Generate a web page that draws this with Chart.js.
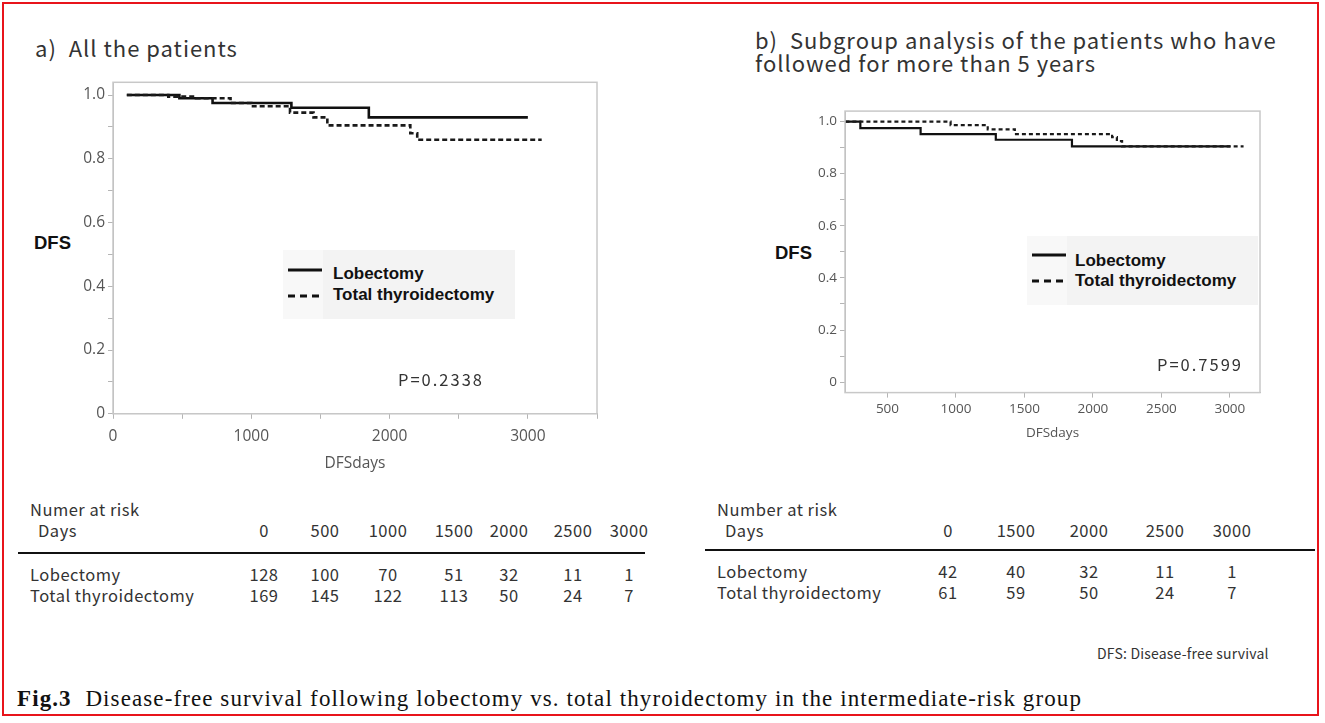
<!DOCTYPE html>
<html>
<head>
<meta charset="utf-8">
<script src="https://cdn.jsdelivr.net/npm/chart.js@4.4.1/dist/chart.umd.min.js"></script>
<style>
  body { margin: 0; background: #fff; width: 1325px; height: 723px; position: relative; overflow: hidden;
         font-family: "Noto Sans CJK JP", "Noto Sans", sans-serif; color: #222; }
  .frame { position: absolute; left: 2px; top: 2px; width: 1317px; height: 714px; border: 2px solid #e8141b; box-sizing: border-box; }
  .abs { position: absolute; white-space: pre; }
  .ttl { font-size: 22px; letter-spacing: 1px; color: #333; line-height: 23px; }
  .dfs { font-family: "Liberation Sans", Arial, sans-serif; font-weight: bold; font-size: 18.5px; color: #111; }
  .legend { position: absolute; background: #f3f3f3; }
  .legend .lt { position: absolute; background: #f8f8f8; left: 0; top: 0; bottom: 0; width: 40px; }
  .legend span { position: absolute; font-family: "Liberation Sans", Arial, sans-serif; font-weight: bold; font-size: 17px; color: #111; }
  .legend svg { position: absolute; }
  .pval { font-size: 16.5px; letter-spacing: 2px; color: #333; }
  canvas { position: absolute; }
  .tx { font-size: 16.5px; letter-spacing: 0.5px; color: #333; }
  .cap { font-family: "Liberation Serif", "Times New Roman", serif; font-size: 23px; letter-spacing: 1.1px; color: #111; }
</style>
</head>
<body>
<div class="frame"></div>

<div class="abs ttl" style="left:35px;top:36px;">a)  All the patients</div>
<div class="abs ttl" style="left:755px;top:28px;">b)  Subgroup analysis of the patients who have
followed for more than 5 years</div>

<div class="abs dfs" style="left:34px;top:232px;">DFS</div>
<div class="abs dfs" style="left:775px;top:242px;">DFS</div>

<canvas id="chartA"></canvas>
<canvas id="chartB"></canvas>

<div class="legend" style="left:283px;top:250px;width:232px;height:69px;">
  <div class="lt"></div>
  <svg width="40" height="69" style="left:0;top:0"><line x1="5" y1="20" x2="39" y2="20" stroke="#111" stroke-width="3"/><line x1="5" y1="46" x2="39" y2="46" stroke="#111" stroke-width="3" stroke-dasharray="7 5"/></svg>
  <span style="left:50px;top:14px;">Lobectomy</span>
  <span style="left:50px;top:35px;">Total thyroidectomy</span>
</div>
<div class="legend" style="left:1027px;top:236px;width:231px;height:69px;">
  <div class="lt"></div>
  <svg width="40" height="69" style="left:0;top:0"><line x1="5" y1="19" x2="39" y2="19" stroke="#111" stroke-width="3"/><line x1="5" y1="45" x2="39" y2="45" stroke="#111" stroke-width="3" stroke-dasharray="7 5"/></svg>
  <span style="left:48px;top:15px;">Lobectomy</span>
  <span style="left:48px;top:35px;">Total thyroidectomy</span>
</div>

<div class="abs pval" style="left:398px;top:367px;">P=0.2338</div>
<div class="abs pval" style="left:1157px;top:352px;">P=0.7599</div>

<div id="tabA"></div>
<div id="tabB"></div>

<div class="abs" style="left:1097px;top:643px;font-size:14px;letter-spacing:0.2px;color:#333;">DFS: Disease-free survival</div>
<div class="abs cap" style="left:17px;top:686px;"><b>Fig.3</b>  Disease-free survival following lobectomy vs. total thyroidectomy in the intermediate-risk group</div>

<script>
// ---- a) all patients (Kaplan-Meier steps, read off the figure) ----
var lobA_days  = [100, 480, 720, 1290, 1850, 3000];
var lobA_surv  = [1.0, 0.99, 0.975, 0.96, 0.93, 0.93];
var totA_days  = [100, 400, 600, 850, 1000, 1280, 1450, 1550, 2150, 2200, 3100];
var totA_surv  = [1.0, 0.995, 0.99, 0.975, 0.965, 0.945, 0.93, 0.905, 0.88, 0.86, 0.86];

// ---- b) followed > 5 years ----
var lobB_days  = [193, 302, 742, 1291, 1847, 3004];
var lobB_surv  = [1.0, 0.975, 0.952, 0.93, 0.905, 0.905];
var totB_days  = [193, 961, 1232, 1430, 2140, 2175, 2213, 3100];
var totB_surv  = [1.0, 0.986, 0.97, 0.952, 0.94, 0.925, 0.905, 0.905];

// axis ticks
var yTicks  = [0, 0.1, 0.2, 0.3, 0.4, 0.5, 0.6, 0.7, 0.8, 0.9, 1.0];
var xTicksA = [0, 500, 1000, 1500, 2000, 2500, 3000, 3500];
var xTicksB = [500, 1000, 1500, 2000, 2500, 3000];

// number at risk tables
var riskDaysA = [0, 500, 1000, 1500, 2000, 2500, 3000];
var riskLobA  = [128, 100, 70, 51, 32, 11, 1];
var riskTotA  = [169, 145, 122, 113, 50, 24, 7];
var riskDaysB = [0, 1500, 2000, 2500, 3000];
var riskLobB  = [42, 40, 32, 11, 1];
var riskTotB  = [61, 59, 50, 24, 7];

function pts(xs, ys) {
  return xs.map(function (x, i) { return { x: x, y: ys[i] }; });
}

// light grey frame round the plot area
var boxPlugin = {
  id: 'box',
  afterDraw: function (chart) {
    var a = chart.chartArea, c = chart.ctx;
    c.save();
    c.strokeStyle = '#c8c8c8';
    c.lineWidth = 1.5;
    c.strokeRect(a.left, a.top, a.right - a.left, a.bottom - a.top);
    c.restore();
  }
};

function kmChart(id, opt) {
  var cv = document.getElementById(id);
  cv.style.left = opt.left + 'px';
  cv.style.top = opt.top + 'px';
  cv.width = opt.w; cv.height = opt.h;
  cv.style.width = opt.w + 'px'; cv.style.height = opt.h + 'px';
  return new Chart(cv, {
    type: 'line',
    data: {
      datasets: [{
        label: 'Total thyroidectomy',
        data: opt.tot,
        borderColor: '#1a1a1a',
        borderWidth: opt.lw,
        borderDash: opt.dash,
        stepped: 'before',
        pointRadius: 0,
        fill: false
      }, {
        label: 'Lobectomy',
        data: opt.lob,
        borderColor: '#111',
        borderWidth: opt.lw,
        stepped: 'before',
        pointRadius: 0,
        fill: false
      }]
    },
    options: {
      responsive: false,
      animation: false,
      layout: { padding: opt.pad },
      plugins: { legend: { display: false }, tooltip: { enabled: false } },
      scales: {
        x: {
          type: 'linear',
          min: opt.xmin, max: opt.xmax,
          afterBuildTicks: function (s) { s.ticks = opt.xTicks.map(function (v) { return { value: v }; }); },
          ticks: {
            color: '#555', font: { family: 'Open Sans', size: opt.fs }, maxRotation: 0, autoSkip: false,
            padding: opt.xpad,
            callback: opt.xLabel
          },
          grid: { drawOnChartArea: false, color: '#b5b5b5', tickLength: 5 },
          border: { color: '#b5b5b5' },
          title: { display: true, text: 'DFSdays', color: '#555', font: { family: 'Open Sans', size: opt.fs }, padding: { top: opt.tpad, bottom: 0 } }
        },
        y: {
          min: opt.ymin, max: opt.ymax,
          afterBuildTicks: function (s) { s.ticks = yTicks.map(function (v) { return { value: v }; }); },
          afterFit: function (s) { s.width = opt.yw; },
          ticks: {
            color: '#555', font: { family: 'Open Sans', size: opt.fs }, padding: 3, autoSkip: false,
            callback: function (v) {
              var k = Math.round(v * 10);
              if (k % 2) return '';
              return k === 0 ? '0' : (k / 10).toFixed(1);
            }
          },
          grid: { drawOnChartArea: false, color: '#b5b5b5', tickLength: 5 },
          border: { color: '#b5b5b5' }
        }
      }
    },
    plugins: [boxPlugin]
  });
}

kmChart('chartA', {
  left: 60, top: 70, w: 552, h: 411,
  pad: { top: 10, right: 15, bottom: 8, left: 0 }, yw: 53,
  lob: pts(lobA_days, lobA_surv), tot: pts(totA_days, totA_surv),
  xmin: 0, xmax: 3500, ymin: 0, ymax: 1.04, xTicks: xTicksA,
  xLabel: function (v) { return v % 1000 === 0 ? String(v) : ''; },
  fs: 15.5, lw: 2.6, dash: [5, 3], xpad: 8, tpad: 1
});

kmChart('chartB', {
  left: 805, top: 100, w: 465, h: 349,
  pad: { top: 11, right: 10, bottom: 8, left: 0 }, yw: 40,
  lob: pts(lobB_days, lobB_surv), tot: pts(totB_days, totB_surv),
  xmin: 190, xmax: 3220, ymin: -0.04, ymax: 1.04, xTicks: xTicksB,
  xLabel: function (v) { return String(v); },
  fs: 13.5, lw: 2.2, dash: [4, 3], xpad: 3, tpad: 5
});

// number-at-risk tables
function riskTable(el, left, top, lineW, title, days, lob, tot, colX, ruleTop) {
  var box = document.getElementById(el);
  var html = '<div class="abs tx" style="left:' + left + 'px;top:' + top + 'px;">' + title + '</div>';
  html += '<div class="abs tx" style="left:' + (left + 8) + 'px;top:' + (top + 21) + 'px;">Days</div>';
  html += '<div class="abs" style="left:' + (left - 12) + 'px;top:' + ruleTop + 'px;width:' + lineW + 'px;height:0;border-top:2px solid #111;"></div>';
  html += '<div class="abs tx" style="left:' + left + 'px;top:' + (ruleTop + 10) + 'px;">Lobectomy</div>';
  html += '<div class="abs tx" style="left:' + left + 'px;top:' + (ruleTop + 31) + 'px;">Total thyroidectomy</div>';
  days.forEach(function (d, i) {
    var cell = 'left:' + (colX[i] - 30) + 'px;width:60px;text-align:center;top:';
    html += '<div class="abs tx" style="' + cell + (top + 21) + 'px;">' + d + '</div>';
    html += '<div class="abs tx" style="' + cell + (ruleTop + 10) + 'px;">' + lob[i] + '</div>';
    html += '<div class="abs tx" style="' + cell + (ruleTop + 31) + 'px;">' + tot[i] + '</div>';
  });
  box.innerHTML = html;
}
riskTable('tabA', 30, 497, 627, 'Numer at risk', riskDaysA, riskLobA, riskTotA, [264, 325, 388, 454, 509, 573, 629], 552);
riskTable('tabB', 717, 497, 610, 'Number at risk', riskDaysB, riskLobB, riskTotB, [948, 1016, 1089, 1165, 1232], 549);
</script>
</body>
</html>
